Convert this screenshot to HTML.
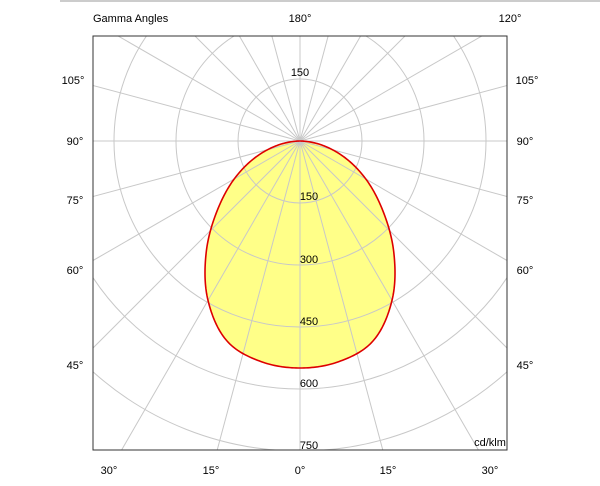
<!DOCTYPE html>
<html><head><meta charset="utf-8"><style>
html,body{margin:0;padding:0;background:#fff;width:600px;height:486px;overflow:hidden}
svg{display:block;font-family:"Liberation Sans",Arial,sans-serif;font-size:11px}
</style></head><body>
<svg id="s" width="600" height="486" viewBox="0 0 600 486" xmlns="http://www.w3.org/2000/svg">
<line x1="60" y1="1" x2="600" y2="1" stroke="#999" stroke-width="1"/>
<defs><clipPath id="c"><rect x="93" y="36" width="414" height="414"/></clipPath></defs>
<g id="fill" clip-path="url(#c)"></g>
<g id="grid" clip-path="url(#c)" stroke="#c8c8c8" stroke-width="1" fill="none"></g>
<g id="curve"></g>
<rect x="93" y="36" width="414" height="414" fill="none" stroke="#333" stroke-width="1"/>
<g fill="#000" text-anchor="middle">
<text x="300" y="76">150</text>
<text x="309" y="200">150</text>
<text x="309" y="263">300</text>
<text x="309" y="325">450</text>
<text x="309" y="387">600</text>
<text x="309" y="449">750</text>
<text x="490" y="446">cd/klm</text>
<text x="300" y="22">180°</text>
<text x="510" y="22">120°</text>
<text x="73" y="84">105°</text><text x="527" y="84">105°</text>
<text x="75" y="145">90°</text><text x="525" y="145">90°</text>
<text x="75" y="204">75°</text><text x="525" y="204">75°</text>
<text x="75" y="274">60°</text><text x="525" y="274">60°</text>
<text x="75" y="369">45°</text><text x="525" y="369">45°</text>
<text x="109" y="474">30°</text>
<text x="211" y="474">15°</text>
<text x="300" y="474">0°</text>
<text x="388" y="474">15°</text>
<text x="490" y="474">30°</text>
</g>
<text x="93" y="22">Gamma Angles</text>
</svg>
<script>
var NS="http://www.w3.org/2000/svg",cx=300,cy=141,k=62/150;
function el(p,t,a){var e=document.createElementNS(NS,t);for(var i in a)e.setAttribute(i,a[i]);p.appendChild(e);return e;}
var g=document.getElementById('grid');
for(var v=150;v<=1500;v+=150)el(g,'circle',{cx:cx,cy:cy,r:v*k});
for(var a=0;a<360;a+=15){var r=a*Math.PI/180;el(g,'line',{x1:cx,y1:cy,x2:cx+800*Math.sin(r),y2:cy+800*Math.cos(r)});}
var P=[224,227,224,213,184,146,108,76,47,21,0,0];
function rAt(d){var u=d/10,i=Math.min(Math.floor(u),9),t=u-i;
var p0=P[i],p1=P[i+1],p2=P[i+2],p3=P[i+3]!==undefined?P[i+3]:0;
return 0.5*((2*p1)+(-p0+p2)*t+(2*p0-5*p1+4*p2-p3)*t*t+(-p0+3*p1-3*p2+p3)*t*t*t);}
var s="";
for(var d=-90;d<=90;d+=0.5){var r=Math.max(0,rAt(Math.abs(d))),ang=d*Math.PI/180;s+=(d==-90?"M":"L")+(cx+r*Math.sin(ang)).toFixed(2)+","+(cy+r*Math.cos(ang)).toFixed(2);}
s+="Z";
el(document.getElementById('fill'),'path',{d:s,fill:"#ffff88"});
el(document.getElementById('curve'),'path',{d:s,fill:"none",stroke:"#dd0000","stroke-width":1.6});
</script>
</body></html>
